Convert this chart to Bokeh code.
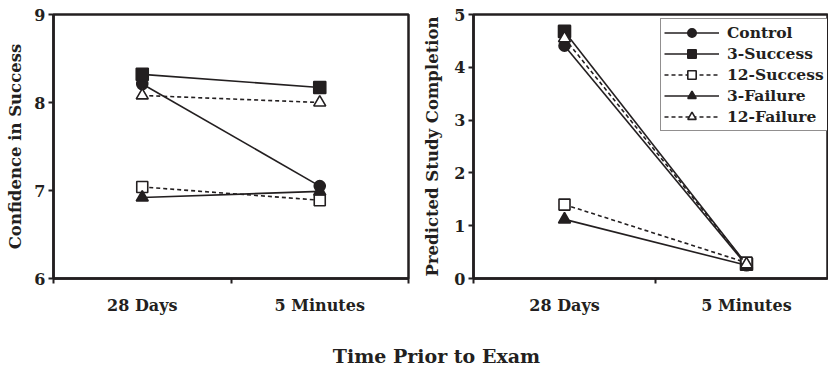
from bokeh.plotting import figure
from bokeh.models import FixedTicker, Legend, LegendItem, Label, Range1d
from bokeh.layouts import column, row
from bokeh.embed import file_html
from bokeh.resources import INLINE

# ---- data ----
categories = ["28 Days", "5 Minutes"]
series_names = ["Control", "3-Success", "12-Success", "3-Failure", "12-Failure"]

conf_control = [8.21, 7.05]
conf_3_success = [8.32, 8.17]
conf_12_success = [7.04, 6.89]
conf_3_failure = [6.92, 6.99]
conf_12_failure = [8.08, 8.00]

pred_control = [4.41, 0.25]
pred_3_success = [4.68, 0.27]
pred_12_success = [1.40, 0.30]
pred_3_failure = [1.12, 0.25]
pred_12_failure = [4.55, 0.27]

conf_ticks = [6, 7, 8, 9]
pred_ticks = [0, 1, 2, 3, 4, 5]

y_title_left = "Confidence in Success"
y_title_right = "Predicted Study Completion"
x_title = "Time Prior to Exam"

# ---- styles ----
INK = "#231f20"
FONT = "DejaVu Serif"
styles = {
    "Control": dict(marker="circle", fill=INK, dash="solid", size=11),
    "3-Success": dict(marker="square", fill=INK, dash="solid", size=12),
    "12-Success": dict(marker="square", fill="white", dash="4 3", size=11),
    "3-Failure": dict(marker="triangle", fill=INK, dash="solid", size=12),
    "12-Failure": dict(marker="triangle", fill="white", dash="4 3", size=12),
}

xpos = [i + 0.5 for i in range(len(categories))]
label_map = {x: c for x, c in zip(xpos, categories)}
boundaries = list(range(len(categories) + 1))


def style_fig(p, yticks, ytitle, title_standoff):
    p.xgrid.visible = False
    p.ygrid.visible = False
    p.outline_line_color = INK
    p.outline_line_width = 2.5
    p.background_fill_color = "white"
    p.border_fill_color = "white"
    for ax in (p.xaxis[0], p.yaxis[0]):
        ax.axis_line_color = INK
        ax.axis_line_width = 2.5
        ax.major_label_text_font = FONT
        ax.major_label_text_font_style = "bold"
        ax.major_label_text_font_size = "16px"
        ax.major_label_text_color = INK
        ax.major_tick_line_color = INK
        ax.major_tick_line_width = 2
        ax.minor_tick_line_color = INK
        ax.minor_tick_line_width = 2
    xa = p.xaxis[0]
    xa.ticker = FixedTicker(ticks=xpos, minor_ticks=boundaries)
    xa.major_label_overrides = label_map
    xa.major_tick_in = 0
    xa.major_tick_out = 0
    xa.minor_tick_in = 0
    xa.minor_tick_out = 5
    xa.major_label_standoff = 12
    ya = p.yaxis[0]
    ya.ticker = FixedTicker(ticks=yticks)
    ya.major_tick_in = 0
    ya.major_tick_out = 5
    ya.minor_tick_line_color = None
    ya.major_label_standoff = 3
    ya.axis_label = ytitle
    ya.axis_label_text_font = FONT
    ya.axis_label_text_font_style = "bold"
    ya.axis_label_text_font_size = "16.5px"
    ya.axis_label_text_color = INK
    ya.axis_label_standoff = title_standoff


def add_series(p, name, ys):
    st = styles[name]
    ln = p.line(xpos, ys, line_color=INK, line_width=1.6, line_dash=st["dash"])
    sc = p.scatter(xpos, ys, marker=st["marker"], size=st["size"],
                   fill_color=st["fill"], line_color=INK, line_width=1.6)
    return [ln, sc]


# ---- left panel ----
p1 = figure(width=418, height=320, output_backend="svg", toolbar_location=None,
            x_range=Range1d(0, 2), y_range=Range1d(conf_ticks[0], conf_ticks[-1]),
            min_border_left=53, min_border_right=10, min_border_top=14, min_border_bottom=42)
style_fig(p1, conf_ticks, y_title_left, 6)
left_data = [conf_control, conf_3_success, conf_12_success, conf_3_failure, conf_12_failure]
for name, ys in zip(series_names, left_data):
    add_series(p1, name, ys)

# ---- right panel ----
p2 = figure(width=410, height=320, output_backend="svg", toolbar_location=None,
            x_range=Range1d(0, 1.945), y_range=Range1d(pred_ticks[0], pred_ticks[-1]),
            min_border_left=55, min_border_right=1, min_border_top=14, min_border_bottom=37)
style_fig(p2, pred_ticks, y_title_right, 9)
right_data = [pred_control, pred_3_success, pred_12_success, pred_3_failure, pred_12_failure]
items = []
for name, ys in zip(series_names, right_data):
    rs = add_series(p2, name, ys)
    items.append(LegendItem(label=name, renderers=rs))

legend = Legend(items=items, location=(187, 147),
                label_text_font=FONT, label_text_font_style="bold",
                label_text_font_size="15.5px", label_text_color=INK,
                glyph_width=55, glyph_height=21, label_height=21, spacing=0,
                label_standoff=8, padding=3, margin=0,
                border_line_color=INK, border_line_width=1.5,
                background_fill_color="white", background_fill_alpha=1.0)
p2.add_layout(legend, "center")

# ---- shared x title ----
p3 = figure(width=828, height=50, output_backend="svg", toolbar_location=None,
            x_range=Range1d(0, 1), y_range=Range1d(0, 1),
            min_border=0)
p3.xaxis.visible = False
p3.yaxis.visible = False
p3.xgrid.visible = False
p3.ygrid.visible = False
p3.outline_line_color = None
p3.add_layout(Label(x=436, y=15, x_units="screen", y_units="screen", text=x_title,
                    text_align="center", text_baseline="alphabetic",
                    text_font=FONT, text_font_style="bold", text_font_size="19px",
                    text_color=INK))

layout = column(row(p1, p2, spacing=0), p3, spacing=0)
open("out.html", "w").write(file_html(layout, INLINE))
